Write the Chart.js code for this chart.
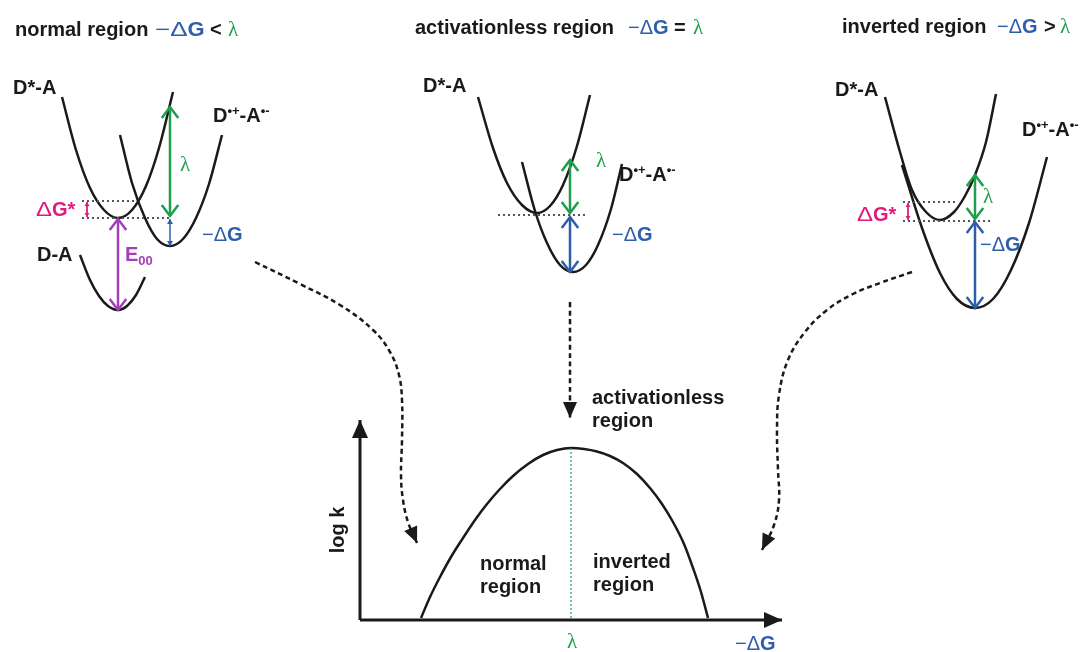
<!DOCTYPE html>
<html>
<head>
<meta charset="utf-8">
<script src="https://cdn.jsdelivr.net/npm/chart.js@4"></script>
<style>
  html, body { margin: 0; padding: 0; background: #fff; }
  #wrap { width: 1081px; height: 652px; }
</style>
</head>
<body>
<div id="wrap"><canvas id="scheme" width="1081" height="652"></canvas></div>
<script>
// --- potential energy wells (x, energy), normal region ---
const normalExcited = [[62,97],[76,150],[90,188],[104,210],[118,218],[132,210],[146,186],[159,148],[173,92]];
const normalCS      = [[120,135],[132,183],[145,218],[157,239],[170,246],[183,239],[196,218],[209,184],[222,135]];
const normalGround  = [[80,255],[90,280],[99,296],[108,306],[118,310],[127,306],[136,295],[145,277]];

// activationless region
const actExcited = [[478,97],[493,148],[507,183],[522,205],[537,213],[550,206],[563,185],[577,146],[590,95]];
const actCS      = [[522,162],[535,211],[547,243],[560,265],[573,272],[586,265],[598,245],[611,209],[622,164]];

// inverted region
const invExcited = [[885,97],[900,152],[912,190],[926,212],[940,220],[954,212],[965,196],[975,175],[986,142],[996,94]];
const invCS      = [[902,165],[922,228],[940,273],[957,299],[975,308],[993,299],[1011,270],[1029,223],[1047,157]];

// dotted energy levels
const normalLevels = [[[82,201],[137,201]], [[82,218],[169,218]]];
const actLevels    = [[[498,215],[587,215]]];
const invLevels    = [[[903,202],[958,202]], [[903,221],[992,221]]];

// vertical energy gaps: [x, top, bottom]
const normalLambda  = [170,107,216];
const normalDG      = [170,219,246];
const normalE00     = [118,219,310];
const normalBarrier = [87,202,217];
const actLambda     = [570,160,213];
const actDG         = [570,217,272];
const invLambda     = [975,175,219];
const invDG         = [975,222,308];
const invBarrier    = [908,203,220];

// dashed connectors into the rate plot
const pathNormal = [[255,262],[300,284],[340,305],[373,330],[390,352],[399,375],[402,400],[402,440],[401,475],[403,500],[408,522],[417,543]];
const pathAct    = [[570,302],[570,418]];
const pathInv    = [[912,272],[880,283],[853,294],[827,310],[805,332],[788,360],[779,395],[777,430],[778,470],[779,500],[774,525],[762,550]];

// log k vs -dG plot
const axisY      = [[360,620],[360,420]];
const axisX      = [[360,620],[782,620]];
const rateCurve  = [[421,618],[430,597],[440,577],[451,557],[463,538],[475,520],[487,504],[500,489],[513,476],
                    [528,464],[543,455],[557,450],[571,448],[584,449],[597,451.5],[610,456],[623,463],[637,474],
                    [650,488],[662,504],[673,522],[684,544],[693,568],[701,592],[708,618]];
const lambdaLine = [[571,448],[571,620]];

const BLACK = '#1a1a1a', GREEN = '#1f9e4d', BLUE = '#2e5ea9', PURPLE = '#a23fba', MAGENTA = '#e0197d', DOT = '#555';
const SANS = '"Liberation Sans", Arial, sans-serif';
const B20 = `bold 20px ${SANS}`;
const N20 = `20px ${SANS}`;
const SUP = `bold 13px ${SANS}`;
const LAM = `21px "Liberation Serif", "DejaVu Serif", serif`;

const pts = a => a.map(([x, y]) => ({ x, y }));
const line = (a, o) => Object.assign({
  data: pts(a), showLine: true, pointRadius: 0, borderColor: BLACK,
  borderWidth: 2.5, fill: false, tension: 0
}, o);
const well = a => line(a, { cubicInterpolationMode: 'monotone' });
const gap = ([x, y1, y2], color, o) => line([[x, y1], [x, y2]], Object.assign({
  borderColor: color, borderWidth: 2.5, heads: 'both', headStyle: 'open', headSize: 11
}, o));
const level = seg => line(seg, { borderColor: DOT, borderWidth: 2, borderDash: [2, 3] });
const dashed = a => line(a, { borderWidth: 2.5, borderDash: [5, 3.5], tension: 0.4,
  heads: 'end', headStyle: 'fill', headSize: 16, headWidth: 7 });

const datasets = [
  gap(normalLambda, GREEN),
  gap(normalDG, BLUE, { borderWidth: 1.5, headStyle: 'fill', headSize: 5, headWidth: 3 }),
  gap(normalE00, PURPLE),
  gap(normalBarrier, MAGENTA, { borderWidth: 1, headStyle: 'fill', headSize: 4, headWidth: 2.5 }),
  gap(actLambda, GREEN),
  gap(actDG, BLUE),
  gap(invLambda, GREEN),
  gap(invDG, BLUE),
  gap(invBarrier, MAGENTA, { borderWidth: 1, headStyle: 'fill', headSize: 4, headWidth: 2.5 }),
  ...normalLevels.map(level), ...actLevels.map(level), ...invLevels.map(level),
  well(normalExcited), well(normalCS), well(normalGround),
  well(actExcited), well(actCS),
  well(invExcited), well(invCS),
  dashed(pathNormal), dashed(pathAct), dashed(pathInv),
  line(lambdaLine, { borderColor: GREEN, borderWidth: 1.2, borderDash: [2, 2] }),
  well(rateCurve),
  line(axisY, { borderWidth: 3, heads: 'end', headStyle: 'fill', headSize: 18, headWidth: 8 }),
  line(axisX, { borderWidth: 3, heads: 'end', headStyle: 'fill', headSize: 18, headWidth: 8 })
];

// text: runs of [text, colour, font, dy, horizontal stretch]
const dG = [['\u2212\u0394', BLUE, N20], ['G', BLUE, B20]];
const dGwide = [['\u2212\u0394', BLUE, N20, 0, 1.3], ['G', BLUE, B20, 0, 1.1]];
const cs = [['D', BLACK, B20], ['\u2022+', BLACK, SUP, -7], ['-A', BLACK, B20], ['\u2022-', BLACK, SUP, -7]];
const dGstar = [['\u0394', MAGENTA, N20, 0, 1.2], ['G*', MAGENTA, B20]];
const labels = [
  { x: 15,  y: 36, runs: [['normal region', BLACK, B20]] },
  { x: 155, y: 36, runs: dGwide },
  { x: 210, y: 36, runs: [['<', BLACK, B20]] },
  { x: 228, y: 36, runs: [['\u03bb', GREEN, LAM]] },
  { x: 415, y: 34, runs: [['activationless region', BLACK, B20]] },
  { x: 628, y: 34, runs: dG },
  { x: 674, y: 34, runs: [['=', BLACK, B20]] },
  { x: 693, y: 34, runs: [['\u03bb', GREEN, LAM]] },
  { x: 842, y: 33, runs: [['inverted region', BLACK, B20]] },
  { x: 997, y: 33, runs: dG },
  { x: 1044, y: 33, runs: [['>', BLACK, B20]] },
  { x: 1060, y: 33, runs: [['\u03bb', GREEN, LAM]] },

  { x: 13,  y: 94,  runs: [['D*-A', BLACK, B20]] },
  { x: 213, y: 122, runs: cs },
  { x: 37,  y: 261, runs: [['D-A', BLACK, B20]] },
  { x: 36,  y: 216, runs: dGstar },
  { x: 125, y: 261, runs: [['E', PURPLE, B20], ['00', PURPLE, SUP, 4]] },
  { x: 180, y: 171, runs: [['\u03bb', GREEN, LAM]] },
  { x: 202, y: 241, runs: dG },

  { x: 423, y: 92,  runs: [['D*-A', BLACK, B20]] },
  { x: 619, y: 181, runs: cs },
  { x: 596, y: 167, runs: [['\u03bb', GREEN, LAM]] },
  { x: 612, y: 241, runs: dG },

  { x: 835, y: 96,  runs: [['D*-A', BLACK, B20]] },
  { x: 1022, y: 136, runs: cs },
  { x: 983, y: 203, runs: [['\u03bb', GREEN, LAM]] },
  { x: 857, y: 221, runs: dGstar },
  { x: 980, y: 251, runs: dG },

  { x: 592, y: 404, runs: [['activationless', BLACK, B20]] },
  { x: 592, y: 427, runs: [['region', BLACK, B20]] },
  { x: 480, y: 570, runs: [['normal', BLACK, B20]] },
  { x: 480, y: 593, runs: [['region', BLACK, B20]] },
  { x: 593, y: 568, runs: [['inverted', BLACK, B20]] },
  { x: 593, y: 591, runs: [['region', BLACK, B20]] },
  { x: 567, y: 648, runs: [['\u03bb', GREEN, LAM]] },
  { x: 735, y: 650, runs: dG },
  { x: 344, y: 530, runs: [['log k', BLACK, B20]], rotate: true }
];

function drawHead(ctx, from, to, ds) {
  const a = Math.atan2(to.y - from.y, to.x - from.x);
  const len = ds.headSize, half = ds.headWidth || len * 0.75;
  ctx.save();
  ctx.translate(to.x, to.y);
  ctx.rotate(a);
  ctx.strokeStyle = ctx.fillStyle = ds.borderColor;
  ctx.lineWidth = ds.borderWidth;
  ctx.setLineDash([]);
  ctx.beginPath();
  ctx.moveTo(-len, -half);
  ctx.lineTo(0, 0);
  ctx.lineTo(-len, half);
  if (ds.headStyle === 'fill') { ctx.closePath(); ctx.fill(); }
  else { ctx.lineCap = 'butt'; ctx.lineJoin = 'miter'; ctx.stroke(); }
  ctx.restore();
}

const arrowHeads = {
  id: 'arrowHeads',
  afterDatasetsDraw(chart) {
    const ctx = chart.ctx;
    chart.data.datasets.forEach((ds, i) => {
      if (!ds.heads) return;
      const el = chart.getDatasetMeta(i).data;
      const n = el.length;
      if (ds.heads === 'both') drawHead(ctx, el[1], el[0], ds);
      drawHead(ctx, el[n - 2], el[n - 1], ds);
    });
  }
};

const textLabels = {
  id: 'textLabels',
  afterDraw(chart) {
    const ctx = chart.ctx, sx = chart.scales.x, sy = chart.scales.y;
    labels.forEach(l => {
      const px = sx.getPixelForValue(l.x), py = sy.getPixelForValue(l.y);
      ctx.save();
      ctx.textBaseline = 'alphabetic';
      ctx.translate(px, py);
      if (l.rotate) {
        ctx.rotate(-Math.PI / 2);
        ctx.font = l.runs[0][2];
        ctx.translate(-ctx.measureText(l.runs[0][0]).width / 2, 0);
      }
      let cx = 0;
      l.runs.forEach(([t, c, f, dy = 0, k = 1]) => {
        ctx.font = f;
        ctx.fillStyle = c;
        ctx.save();
        ctx.translate(cx, dy);
        ctx.scale(k, 1);
        ctx.fillText(t, 0, 0);
        ctx.restore();
        cx += ctx.measureText(t).width * k;
      });
      ctx.restore();
    });
  }
};

new Chart(document.getElementById('scheme'), {
  type: 'scatter',
  data: { datasets },
  options: {
    responsive: false,
    animation: false,
    events: [],
    layout: { padding: 0 },
    plugins: { legend: { display: false }, tooltip: { enabled: false } },
    scales: {
      x: { type: 'linear', min: 0, max: 1081, display: false },
      y: { type: 'linear', min: 0, max: 652, reverse: true, display: false }
    }
  },
  plugins: [arrowHeads, textLabels]
});
</script>
</body>
</html>
